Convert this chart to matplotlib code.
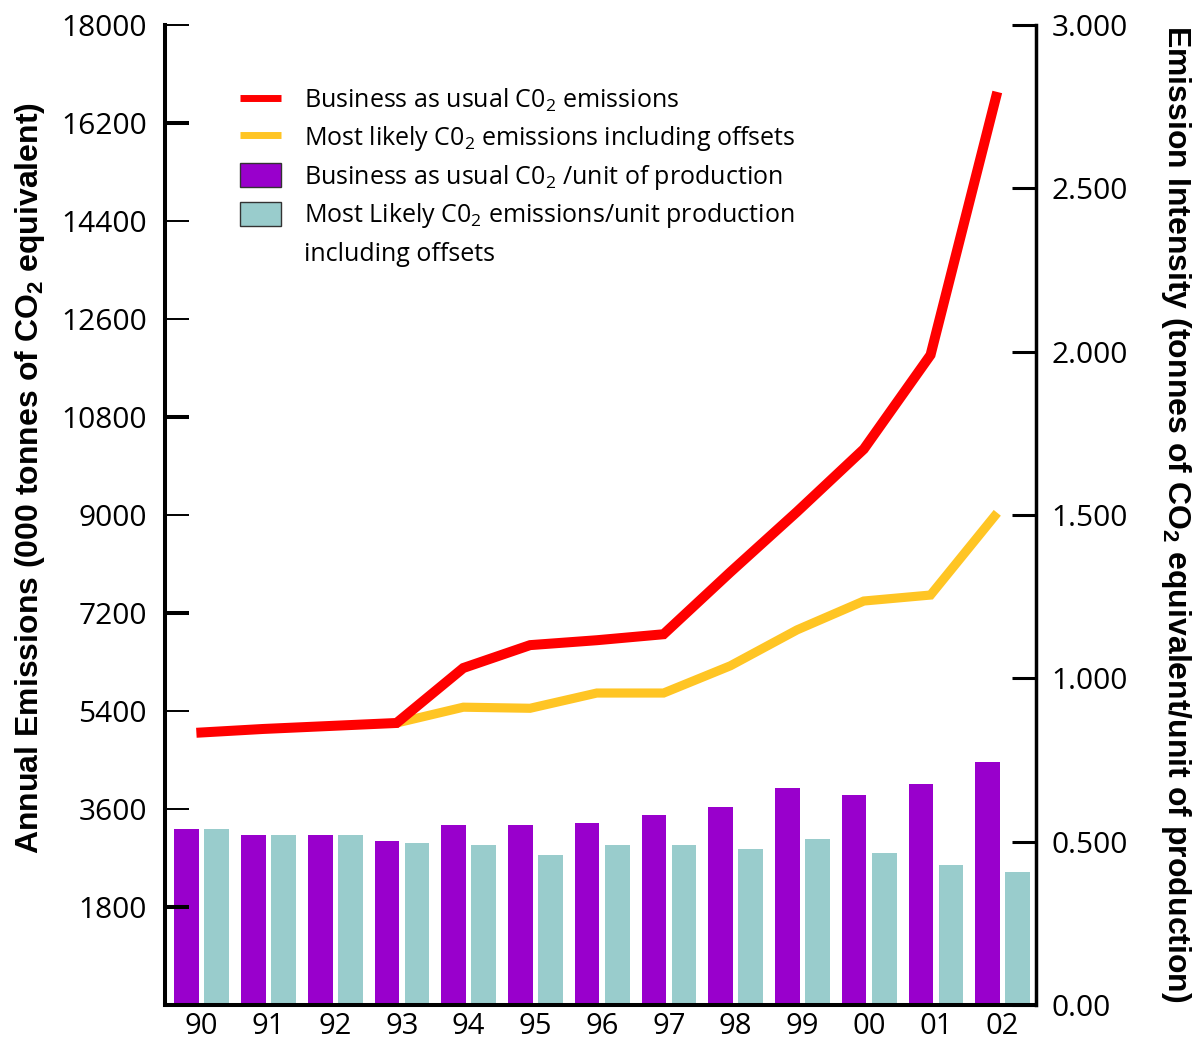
import matplotlib as mpl
import matplotlib.pyplot as plt
from matplotlib.lines import Line2D
from matplotlib.patches import Patch
import numpy as np

mpl.rcParams["font.family"] = ["Open Sans", "DejaVu Sans"]
mpl.rcParams["mathtext.default"] = "regular"

years = ["90", "91", "92", "93", "94", "95", "96", "97", "98", "99", "00", "01", "02"]

# annual emissions, 000 tonnes CO2 equivalent
bau_emissions = [5000, 5070, 5125, 5180, 6190, 6610, 6700, 6810, 7950, 9060, 10210, 11940, 16770]
likely_emissions = [None, None, None, 5180, 5470, 5450, 5730, 5730, 6230, 6890, 7420, 7530, 9040]

# emission intensity, tonnes CO2 equivalent per unit of production
bau_intensity = [0.538, 0.520, 0.520, 0.502, 0.550, 0.550, 0.557, 0.581, 0.606, 0.664, 0.642, 0.676, 0.743]
likely_intensity = [0.538, 0.520, 0.520, 0.495, 0.489, 0.459, 0.489, 0.489, 0.477, 0.508, 0.465, 0.428, 0.407]

left_ticks = [1800, 3600, 5400, 7200, 9000, 10800, 12600, 14400, 16200, 18000]
right_ticks = [0.0, 0.5, 1.0, 1.5, 2.0, 2.5, 3.0]
right_labels = ["0.00", "0.500", "1.000", "1.500", "2.000", "2.500", "3.000"]

RED = "#ff0000"
YELLOW = "#ffc524"
PURPLE = "#9900cc"
TEAL = "#99cccc"

W, H = 1201, 1042
fig = plt.figure(figsize=(W / 100, H / 100), dpi=100)
ax = fig.add_axes([165 / W, 1 - 1005 / H, (1036 - 165) / W, (1005 - 25) / H])
ax2 = ax.twinx()

x = np.arange(len(years))
bw = 0.37
ax2.bar(x - 0.225, bau_intensity, bw, color=PURPLE, zorder=2)
ax2.bar(x + 0.225, likely_intensity, bw, color=TEAL, zorder=2)

lx = x - 0.08
lik = np.array([np.nan if v is None else v for v in likely_emissions], dtype=float)
ax.plot(lx, lik, color=YELLOW, lw=6.6, solid_joinstyle="miter", solid_capstyle="butt", zorder=3)
ax.plot(lx, bau_emissions, color=RED, lw=7.2, solid_joinstyle="miter", solid_capstyle="butt", zorder=4)
ax.set_zorder(ax2.get_zorder() + 1)
ax.patch.set_visible(False)

ax.set_xlim(-0.55, 12.5)
ax.set_ylim(0, 18000)
ax2.set_ylim(0, 3.0)

ax.set_xticks(x)
ax.set_xticklabels(years)
ax.tick_params(axis="x", length=0, pad=5, labelsize=21)

ax.set_yticks(left_ticks)
ax.set_yticklabels([str(v) for v in left_ticks])
ax.tick_params(axis="y", direction="in", length=17.5, width=1.4, pad=13, labelsize=21.5)
# a few of the left ticks are drawn heavier
for t, v in zip(ax.yaxis.get_major_ticks(), left_ticks):
    if v in (1800, 7200, 10800, 16200):
        t.tick1line.set_markeredgewidth(2.9)

ax2.set_yticks(right_ticks)
ax2.set_yticklabels(right_labels)
ax2.tick_params(axis="y", direction="in", length=17.5, width=2.2, pad=11, labelsize=21.5)

for a in (ax, ax2):
    a.spines["top"].set_visible(False)
ax.spines["right"].set_visible(False)
ax2.spines["left"].set_visible(False)
ax2.spines["bottom"].set_visible(False)
ax.spines["left"].set_linewidth(2.9)
ax.spines["bottom"].set_linewidth(2.9)
ax2.spines["right"].set_linewidth(2.5)

fig.text(30 / W, 1 - 478 / H, "Annual Emissions (000 tonnes of CO$_2$ equivalent)",
         family="Liberation Sans", weight="bold", fontsize=23,
         rotation=90, ha="center", va="center")
fig.text(1176 / W, 1 - 514 / H, "Emission Intensity (tonnes of CO$_2$ equivalent/unit of production)",
         family="Liberation Sans", weight="bold", fontsize=23,
         rotation=270, ha="center", va="center")

handles = [
    Line2D([], [], color=RED, lw=5, solid_capstyle="butt"),
    Line2D([], [], color=YELLOW, lw=5, solid_capstyle="butt"),
    Patch(facecolor=PURPLE, edgecolor="#333333", lw=1),
    Patch(facecolor=TEAL, edgecolor="#333333", lw=1),
    Line2D([], [], color="none"),
]
labels = [
    "Business as usual C0$_2$ emissions",
    "Most likely C0$_2$ emissions including offsets",
    "Business as usual C0$_2$ /unit of production",
    "Most Likely C0$_2$ emissions/unit production",
    "including offsets",
]
ax2.legend(handles, labels, loc="upper left", bbox_to_anchor=((240 - 165) / 871, (1005 - 87) / 980),
           frameon=False, fontsize=18, handlelength=1.65, handleheight=1.08,
           handletextpad=0.9, labelspacing=0.39, borderpad=0, borderaxespad=0)

fig.savefig("out.png", dpi=100)
